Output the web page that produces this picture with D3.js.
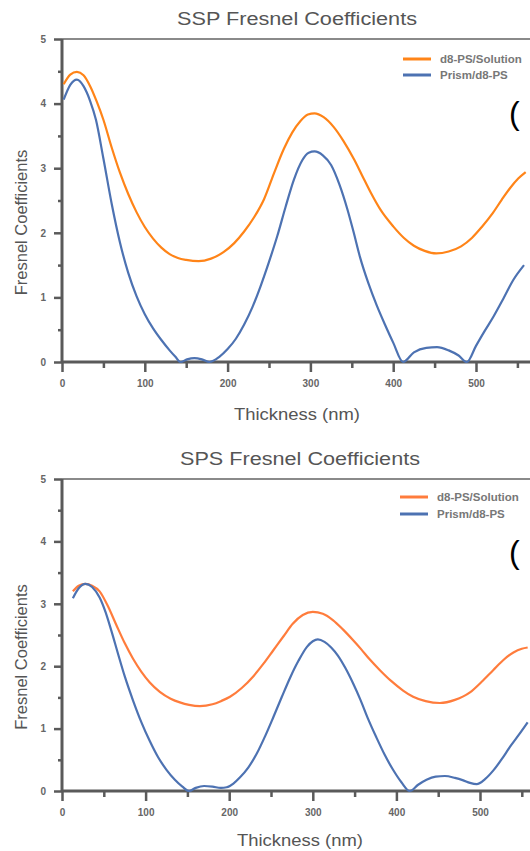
<!DOCTYPE html>
<html>
<head>
<meta charset="utf-8">
<script src="https://cdn.jsdelivr.net/npm/d3@7"></script>
<style>
  body { margin: 0; background: #fff; }
  text { font-family: "Liberation Sans", Arial, sans-serif; }
</style>
</head>
<body>
<svg id="chart" width="530" height="851"></svg>
<script>
// series: [thickness nm, coefficient]
const sspSolution = [[2,4.30],[10,4.45],[18,4.49],[26,4.44],[34,4.27],[42,4.03],[50,3.75],[60,3.32],[70,2.93],[80,2.60],[90,2.32],[100,2.09],[110,1.91],[120,1.77],[130,1.67],[140,1.61],[150,1.58],[165,1.56],[180,1.60],[195,1.70],[208,1.84],[220,2.02],[232,2.24],[244,2.52],[256,2.92],[268,3.30],[278,3.55],[288,3.73],[297,3.83],[305,3.85],[316,3.79],[328,3.64],[340,3.42],[353,3.13],[362,2.90],[373,2.62],[385,2.35],[400,2.10],[413,1.92],[425,1.80],[438,1.72],[452,1.68],[467,1.71],[482,1.79],[495,1.92],[507,2.09],[520,2.30],[531,2.51],[541,2.69],[551,2.84],[560,2.94]];
const sspPrism = [[2,4.06],[10,4.29],[18,4.37],[26,4.27],[34,4.04],[41,3.75],[50,3.15],[60,2.45],[70,1.85],[80,1.38],[90,1.02],[100,0.74],[110,0.52],[120,0.34],[130,0.18],[137,0.08],[143,0.0],[151,0.04],[160,0.06],[169,0.04],[178,0.0],[190,0.08],[200,0.20],[210,0.36],[220,0.58],[230,0.85],[240,1.18],[250,1.55],[260,1.95],[270,2.40],[280,2.82],[290,3.12],[298,3.24],[305,3.26],[315,3.20],[325,3.05],[335,2.75],[345,2.35],[352,2.02],[360,1.62],[370,1.22],[380,0.88],[390,0.58],[400,0.30],[412,0.0],[425,0.15],[440,0.22],[453,0.23],[467,0.18],[479,0.10],[489,0.0],[500,0.25],[510,0.47],[521,0.70],[533,0.98],[545,1.27],[558,1.50]];
const spsSolution = [[13,3.20],[20,3.29],[28,3.32],[36,3.29],[45,3.20],[55,2.96],[65,2.66],[75,2.37],[85,2.12],[95,1.91],[105,1.74],[117,1.59],[130,1.48],[141,1.42],[152,1.38],[165,1.36],[180,1.39],[190,1.44],[201,1.51],[215,1.65],[229,1.84],[241,2.04],[253,2.26],[265,2.48],[276,2.68],[288,2.82],[300,2.87],[312,2.84],[324,2.74],[336,2.59],[348,2.42],[358,2.27],[368,2.11],[380,1.94],[394,1.76],[408,1.61],[420,1.51],[435,1.44],[452,1.41],[470,1.46],[488,1.58],[502,1.75],[516,1.94],[528,2.10],[540,2.22],[550,2.28],[557,2.30]];
const spsPrism = [[13,3.09],[20,3.25],[28,3.32],[36,3.27],[45,3.10],[52,2.87],[59,2.57],[67,2.20],[75,1.84],[85,1.45],[95,1.10],[105,0.80],[115,0.54],[125,0.34],[135,0.18],[144,0.07],[152,0.0],[160,0.05],[170,0.08],[180,0.07],[190,0.05],[197,0.06],[205,0.12],[213,0.22],[223,0.38],[233,0.60],[243,0.88],[253,1.19],[263,1.51],[273,1.82],[283,2.09],[293,2.31],[300,2.40],[306,2.43],[314,2.39],[322,2.30],[330,2.17],[339,1.97],[348,1.73],[357,1.46],[366,1.16],[376,0.86],[386,0.58],[396,0.34],[406,0.14],[416,0.0],[426,0.10],[436,0.18],[447,0.23],[458,0.24],[470,0.21],[480,0.17],[488,0.13],[496,0.11],[506,0.19],[516,0.33],[526,0.51],[536,0.71],[547,0.91],[557,1.10]];

const seriesNames = ['d8-PS/Solution', 'Prism/d8-PS'];
const xMajor = [0, 100, 200, 300, 400, 500];
const xMinor = [50, 150, 250, 350, 450, 550];
const yMajor = [0, 1, 2, 3, 4, 5];
const yMinor = [0.5, 1.5, 2.5, 3.5, 4.5];

const svg = d3.select('#chart');
const axisColor = '#5a5a5a';
const blue = '#4d72b2';

function panel(cfg) {
  const x = d3.scaleLinear().domain([0, 500]).range([62, cfg.x500]);
  const y = d3.scaleLinear().domain([0, 5]).range([cfg.y0, cfg.y5]);
  const g = svg.append('g');

  // top frame line
  g.append('line')
    .attr('x1', x(0)).attr('x2', x(600))
    .attr('y1', y(5)).attr('y2', y(5))
    .attr('stroke', '#8a8a8a').attr('stroke-width', 2);

  // x axis
  const xa = g.append('g').attr('transform', `translate(0,${y(0)})`);
  xa.call(d3.axisBottom(x).tickValues(xMajor).tickSize(10).tickPadding(8));
  xa.append('g').call(d3.axisBottom(x).tickValues(xMinor).tickSize(6).tickFormat(''))
    .select('.domain').remove();
  xa.select('.domain').attr('d', `M${x(0)},0H${x(600)}`);

  // y axis
  const ya = g.append('g').attr('transform', `translate(${x(0)},0)`);
  ya.call(d3.axisLeft(y).tickValues(yMajor).tickSize(8).tickPadding(8).tickFormat(d3.format('d')));
  ya.append('g').call(d3.axisLeft(y).tickValues(yMinor).tickSize(4).tickFormat(''))
    .select('.domain').remove();
  ya.select('.domain').attr('d', `M0,${y(0)}V${y(5)}`);

  g.selectAll('.domain').attr('stroke', axisColor).attr('stroke-width', 3);
  g.selectAll('.tick line').attr('stroke', axisColor).attr('stroke-width', 2.5);
  g.selectAll('.tick text')
    .attr('fill', '#666').attr('font-size', 10).attr('font-weight', 'bold')
    .attr('font-family', '"Liberation Sans", Arial, sans-serif');

  const line = d3.line()
    .x(d => x(d[0]))
    .y(d => y(d[1]))
    .curve(d3.curveMonotoneX);

  g.append('path').datum(cfg.solution)
    .attr('d', line).attr('fill', 'none')
    .attr('stroke', cfg.orange).attr('stroke-width', 2.2);
  g.append('path').datum(cfg.prism)
    .attr('d', line).attr('fill', 'none')
    .attr('stroke', blue).attr('stroke-width', 2.2);

  // title + axis labels
  g.append('text').text(cfg.title)
    .attr('x', cfg.titleX).attr('y', cfg.titleY)
    .attr('text-anchor', 'middle').attr('font-size', 18).attr('fill', '#555')
    .attr('textLength', 240).attr('lengthAdjust', 'spacingAndGlyphs');
  g.append('text').text('Thickness (nm)')
    .attr('x', cfg.titleX).attr('y', cfg.xLabelY)
    .attr('text-anchor', 'middle').attr('font-size', 17).attr('fill', '#555')
    .attr('textLength', 126).attr('lengthAdjust', 'spacingAndGlyphs');
  g.append('text').text('Fresnel Coefficients')
    .attr('transform', `translate(27,${(y(0) + y(5)) / 2 + 22}) rotate(-90)`)
    .attr('text-anchor', 'middle').attr('font-size', 16.5).attr('fill', '#555');

  // legend
  const colors = [cfg.orange, blue];
  const lg = g.selectAll('.lg').data(seriesNames).enter().append('g')
    .attr('transform', (d, i) => `translate(${cfg.legX},${cfg.legY + i * cfg.legStep})`);
  lg.append('line').attr('x1', 0).attr('x2', 28)
    .attr('stroke', (d, i) => colors[i]).attr('stroke-width', 3);
  lg.append('text').text(d => d)
    .attr('x', 37).attr('dy', '0.35em')
    .attr('font-size', 11.5).attr('font-weight', 'bold').attr('fill', '#777');

  // clipped panel letter
  g.append('text').text('(')
    .attr('x', 509).attr('y', cfg.parenY)
    .attr('font-family', '"Liberation Serif", serif').attr('font-size', 32).attr('fill', '#000');
}

panel({
  title: 'SSP Fresnel Coefficients', solution: sspSolution, prism: sspPrism,
  x500: 476, y0: 362, y5: 39, titleX: 297, titleY: 25, xLabelY: 420,
  orange: '#ff8418', legX: 403, legY: 59, legStep: 16, parenY: 124
});
panel({
  title: 'SPS Fresnel Coefficients', solution: spsSolution, prism: spsPrism,
  x500: 480, y0: 791, y5: 479, titleX: 300, titleY: 465, xLabelY: 846,
  orange: '#ff7c3c', legX: 400, legY: 497, legStep: 17, parenY: 563
});
</script>
</body>
</html>
